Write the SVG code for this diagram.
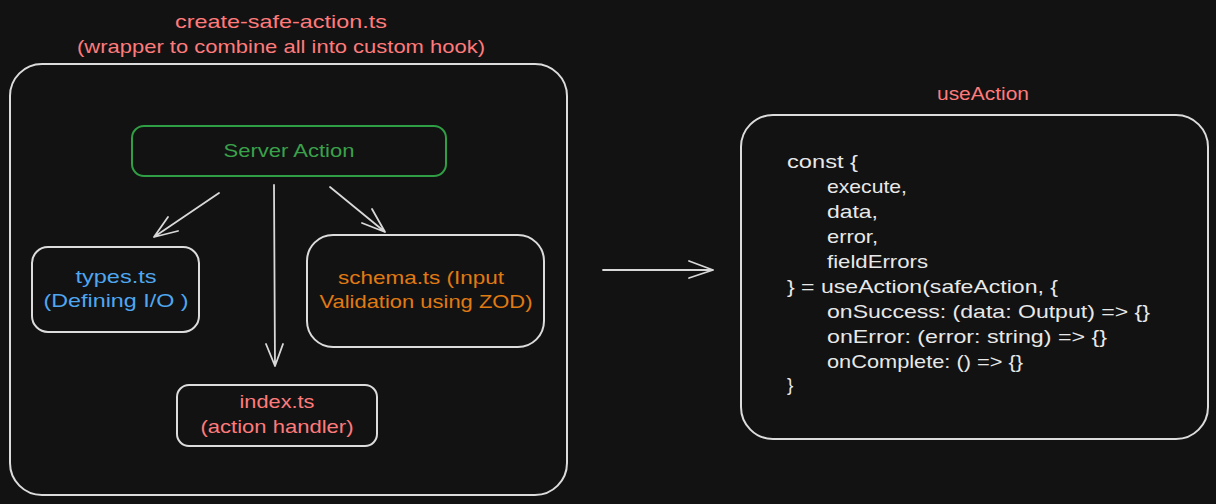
<svg xmlns="http://www.w3.org/2000/svg" width="1216" height="504" viewBox="0 0 1216 504">
  <style>
    .box { fill: none; stroke: #dcdcdc; stroke-width: 2; }
    .t { font-family: "Liberation Sans", Arial, sans-serif; font-size: 19px; }
    .mid { text-anchor: middle; }
    .pink { fill: #ff7b7b; }
    .green { fill: #3aa14b; }
    .blue { fill: #4fa7f0; }
    .orange { fill: #e07a12; }
    .code { fill: #e8e8e8; }
    .conn { fill: none; stroke: #d8d8d8; stroke-width: 1.8; stroke-linecap: round; stroke-linejoin: round; }
  </style>
  <rect width="1216" height="504" fill="#121212"/>

  <g id="title">
    <text class="t pink mid" x="281" y="28" textLength="212" lengthAdjust="spacingAndGlyphs">create-safe-action.ts</text>
    <text class="t pink mid" x="281" y="53" textLength="408" lengthAdjust="spacingAndGlyphs">(wrapper to combine all into custom hook)</text>
  </g>

  <g id="outer">
    <rect class="box" x="10" y="64" width="557" height="431" rx="32"/>
  </g>

  <g id="server-action">
    <rect x="132" y="126" width="314" height="50" rx="12" fill="none" stroke="#2f9e44" stroke-width="2"/>
    <text class="t green mid" x="289" y="157" textLength="131" lengthAdjust="spacingAndGlyphs">Server Action</text>
  </g>

  <g id="types">
    <rect class="box" x="32" y="247" width="167" height="85" rx="16"/>
    <text class="t blue mid" x="116" y="283" textLength="81" lengthAdjust="spacingAndGlyphs">types.ts</text>
    <text class="t blue mid" x="116" y="307" textLength="145" lengthAdjust="spacingAndGlyphs">(Defining I/O )</text>
  </g>

  <g id="schema">
    <rect class="box" x="307" y="235" width="237" height="112" rx="26"/>
    <text class="t orange mid" x="421" y="284" textLength="166" lengthAdjust="spacingAndGlyphs">schema.ts (Input</text>
    <text class="t orange mid" x="426" y="308" textLength="213" lengthAdjust="spacingAndGlyphs">Validation using ZOD)</text>
  </g>

  <g id="index">
    <rect class="box" x="177" y="385" width="200" height="61" rx="12"/>
    <text class="t pink mid" x="277" y="408" textLength="75" lengthAdjust="spacingAndGlyphs">index.ts</text>
    <text class="t pink mid" x="277" y="433" textLength="153" lengthAdjust="spacingAndGlyphs">(action handler)</text>
  </g>

  <g id="use-action">
    <text class="t pink mid" x="983" y="100" textLength="92" lengthAdjust="spacingAndGlyphs">useAction</text>
    <rect class="box" x="741" y="115" width="467" height="324" rx="32"/>
    <text class="t code" x="787" y="168" textLength="71" lengthAdjust="spacingAndGlyphs">const {</text>
    <text class="t code" x="827" y="193" textLength="80" lengthAdjust="spacingAndGlyphs">execute,</text>
    <text class="t code" x="827" y="218" textLength="51" lengthAdjust="spacingAndGlyphs">data,</text>
    <text class="t code" x="827" y="243" textLength="51" lengthAdjust="spacingAndGlyphs">error,</text>
    <text class="t code" x="827" y="268" textLength="101" lengthAdjust="spacingAndGlyphs">fieldErrors</text>
    <text class="t code" x="787" y="293" textLength="271" lengthAdjust="spacingAndGlyphs">} = useAction(safeAction, {</text>
    <text class="t code" x="827" y="318" textLength="323" lengthAdjust="spacingAndGlyphs">onSuccess: (data: Output) =&gt; {}</text>
    <text class="t code" x="827" y="343" textLength="280" lengthAdjust="spacingAndGlyphs">onError: (error: string) =&gt; {}</text>
    <text class="t code" x="827" y="368" textLength="196" lengthAdjust="spacingAndGlyphs">onComplete: () =&gt; {}</text>
    <text class="t code" x="787" y="391">}</text>
  </g>

  <g id="connectors">
    <path class="conn" d="M219 193 L154 237 M168 217 L154 237 L178 231"/>
    <path class="conn" d="M274 185 L275 366 M266 344 L275 366 L283 344"/>
    <path class="conn" d="M330 187 L385 232 M372 209 L385 232 L362 223"/>
    <path class="conn" d="M603 270 L713 270 M689 261 L713 270 L689 278"/>
  </g>
</svg>
